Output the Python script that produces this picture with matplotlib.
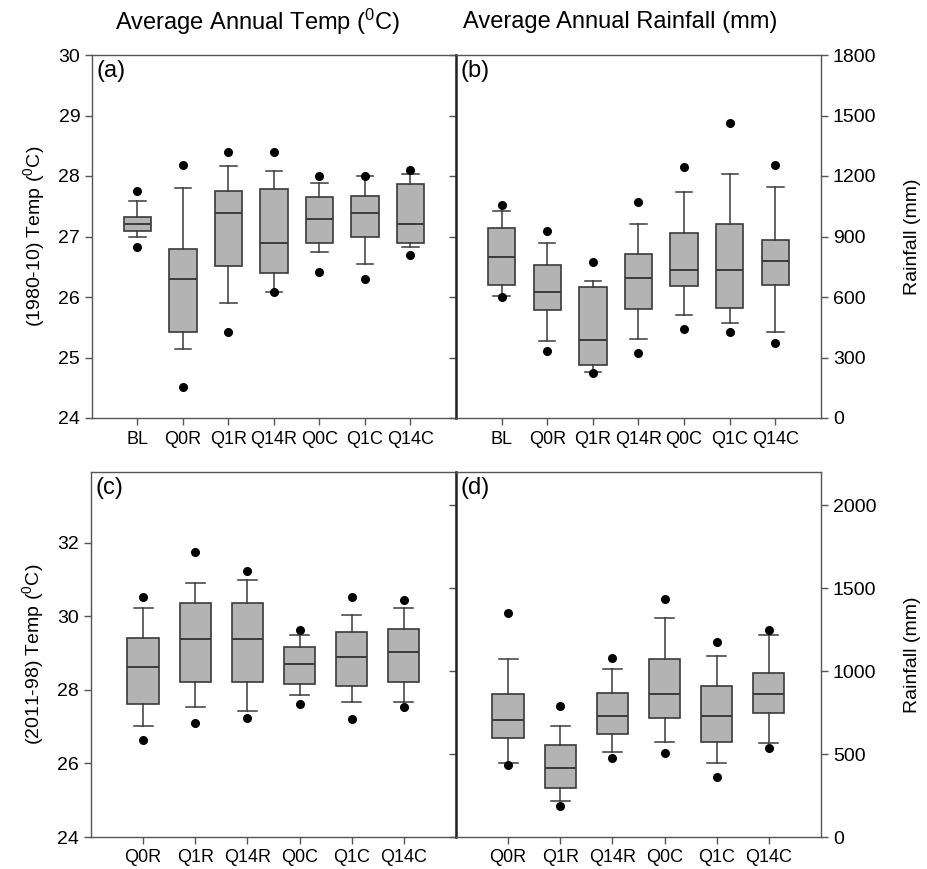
import matplotlib
matplotlib.use("Agg")
import matplotlib.pyplot as plt

plt.rcParams["font.family"] = ["Liberation Sans", "DejaVu Sans"]
plt.rcParams["mathtext.fontset"] = "custom"
plt.rcParams["mathtext.rm"] = "Liberation Sans"
plt.rcParams["mathtext.it"] = "Liberation Sans:italic"

# ---- data ---------------------------------------------------------------
CATS_TOP = ["BL", "Q0R", "Q1R", "Q14R", "Q0C", "Q1C", "Q14C"]
CATS_BOT = ["Q0R", "Q1R", "Q14R", "Q0C", "Q1C", "Q14C"]

# (a) temperature 1980-2010
A_DOT_LO = [26.83, 24.52, 25.42, 26.08, 26.41, 26.30, 26.69]
A_WHI_LO = [26.99, 25.14, 25.90, 26.09, 26.75, 26.54, 26.82]
A_Q1 = [27.09, 25.42, 26.52, 26.40, 26.90, 26.99, 26.90]
A_MED = [27.20, 26.29, 27.39, 26.90, 27.29, 27.39, 27.20]
A_Q3 = [27.32, 26.79, 27.76, 27.79, 27.65, 27.67, 27.87]
A_WHI_HI = [27.59, 27.80, 28.17, 28.09, 27.89, 28.00, 28.04]
A_DOT_HI = [27.75, 28.18, 28.40, 28.39, 28.00, 28.00, 28.10]

# (b) rainfall 1980-2010
B_DOT_LO = [600, 334, 222, 324, 440, 428, 372]
B_WHI_LO = [605, 383, 228, 392, 511, 473, 425]
B_Q1 = [661, 534, 261, 542, 656, 544, 661]
B_MED = [800, 625, 387, 694, 734, 734, 777]
B_Q3 = [941, 759, 650, 812, 919, 960, 884]
B_WHI_HI = [1028, 869, 678, 962, 1122, 1212, 1147]
B_DOT_HI = [1056, 926, 775, 1073, 1243, 1463, 1256]

# (c) temperature 2011-2098
C_DOT_LO = [26.63, 27.10, 27.24, 27.63, 27.22, 27.53]
C_WHI_LO = [27.02, 27.55, 27.42, 27.86, 27.66, 27.66]
C_Q1 = [27.62, 28.23, 28.23, 28.17, 28.12, 28.23]
C_MED = [28.63, 29.39, 29.39, 28.71, 28.91, 29.03]
C_Q3 = [29.42, 30.37, 30.37, 29.18, 29.59, 29.67]
C_WHI_HI = [30.23, 30.90, 30.99, 29.50, 30.04, 30.23]
C_DOT_HI = [30.53, 31.74, 31.24, 29.63, 30.53, 30.44]

# (d) rainfall 2011-2098
D_DOT_LO = [434, 189, 474, 508, 360, 537]
D_WHI_LO = [448, 219, 514, 574, 446, 568]
D_Q1 = [594, 297, 619, 719, 574, 750]
D_MED = [708, 414, 731, 861, 727, 861]
D_Q3 = [863, 554, 865, 1072, 910, 990]
D_WHI_HI = [1072, 669, 1014, 1321, 1092, 1217]
D_DOT_HI = [1348, 791, 1078, 1436, 1173, 1250]

BOX_FACE = "#b3b3b3"
EDGE = "#3a3a3a"
SPINE = "#555555"
FS = 14


def make_stats(dlo, wlo, q1, med, q3, whi, dhi):
    return [
        dict(med=m, q1=a, q3=b, whislo=lo, whishi=hi, fliers=[fl, fh])
        for fl, lo, a, m, b, hi, fh in zip(dlo, wlo, q1, med, q3, whi, dhi)
    ]


def draw(ax, cats, stats, label):
    pos = list(range(1, len(cats) + 1))
    ax.bxp(
        stats, positions=pos, widths=0.6, capwidths=0.36, patch_artist=True,
        boxprops=dict(facecolor=BOX_FACE, edgecolor=EDGE, linewidth=1.2),
        medianprops=dict(color=EDGE, linewidth=1.4),
        whiskerprops=dict(color=EDGE, linewidth=1.1),
        capprops=dict(color=EDGE, linewidth=1.1),
        flierprops=dict(marker="o", markerfacecolor="black",
                        markeredgecolor="black", markersize=5.5),
    )
    ax.set_xticks(pos)
    ax.set_xticklabels(cats)
    ax.set_xlim(0, len(cats) + 1)
    for s in ax.spines.values():
        s.set_color(SPINE)
        s.set_linewidth(1.0)
    ax.tick_params(direction="out", length=5, width=1, color=SPINE,
                   labelsize=FS, top=False)
    ax.tick_params(axis="x", pad=4, labelsize=13)
    ax.text(0.012, 0.985, label, transform=ax.transAxes, ha="left",
            va="top", fontsize=17)


def right_side(ax):
    ax.tick_params(axis="y", left=True, right=True, labelleft=False,
                   labelright=True)
    ax.yaxis.set_label_position("right")
    ax.spines["left"].set_linewidth(1.8)
    ax.spines["left"].set_color("#222222")


W, H = 928, 869
fig = plt.figure(figsize=(W / 100, H / 100), dpi=100)


def frac(l, t, r, b):
    return [l / W, 1 - b / H, (r - l) / W, (b - t) / H]


ax_a = fig.add_axes(frac(92, 55, 456, 418))
ax_b = fig.add_axes(frac(456, 55, 821, 418))
ax_c = fig.add_axes(frac(91, 472, 456, 837))
ax_d = fig.add_axes(frac(456, 472, 821, 837))

draw(ax_a, CATS_TOP, make_stats(A_DOT_LO, A_WHI_LO, A_Q1, A_MED, A_Q3,
                                A_WHI_HI, A_DOT_HI), "(a)")
ax_a.set_ylim(24, 30)
ax_a.set_yticks(range(24, 31))
ax_a.set_ylabel(r"(1980-10) Temp ($^{0}$C)", fontsize=FS, labelpad=8)

draw(ax_b, CATS_TOP, make_stats(B_DOT_LO, B_WHI_LO, B_Q1, B_MED, B_Q3,
                                B_WHI_HI, B_DOT_HI), "(b)")
ax_b.set_ylim(0, 1800)
ax_b.set_yticks(range(0, 1801, 300))
right_side(ax_b)
ax_b.set_ylabel("Rainfall (mm)", fontsize=FS, labelpad=20)

draw(ax_c, CATS_BOT, make_stats(C_DOT_LO, C_WHI_LO, C_Q1, C_MED, C_Q3,
                                C_WHI_HI, C_DOT_HI), "(c)")
ax_c.set_ylim(24, 33.93)
ax_c.set_yticks(range(24, 33, 2))
ax_c.set_ylabel(r"(2011-98) Temp ($^{0}$C)", fontsize=FS, labelpad=8)

draw(ax_d, CATS_BOT, make_stats(D_DOT_LO, D_WHI_LO, D_Q1, D_MED, D_Q3,
                                D_WHI_HI, D_DOT_HI), "(d)")
ax_d.set_ylim(0, 2200)
ax_d.set_yticks(range(0, 2001, 500))
right_side(ax_d)
ax_d.set_ylabel("Rainfall (mm)", fontsize=FS, labelpad=20)

fig.text(258 / W, 1 - 22 / H, r"Average Annual Temp ($^{0}$C)",
         ha="center", va="center", fontsize=17)
fig.text(620 / W, 1 - 22 / H, "Average Annual Rainfall (mm)",
         ha="center", va="center", fontsize=17)

fig.savefig("out.png", dpi=100)
